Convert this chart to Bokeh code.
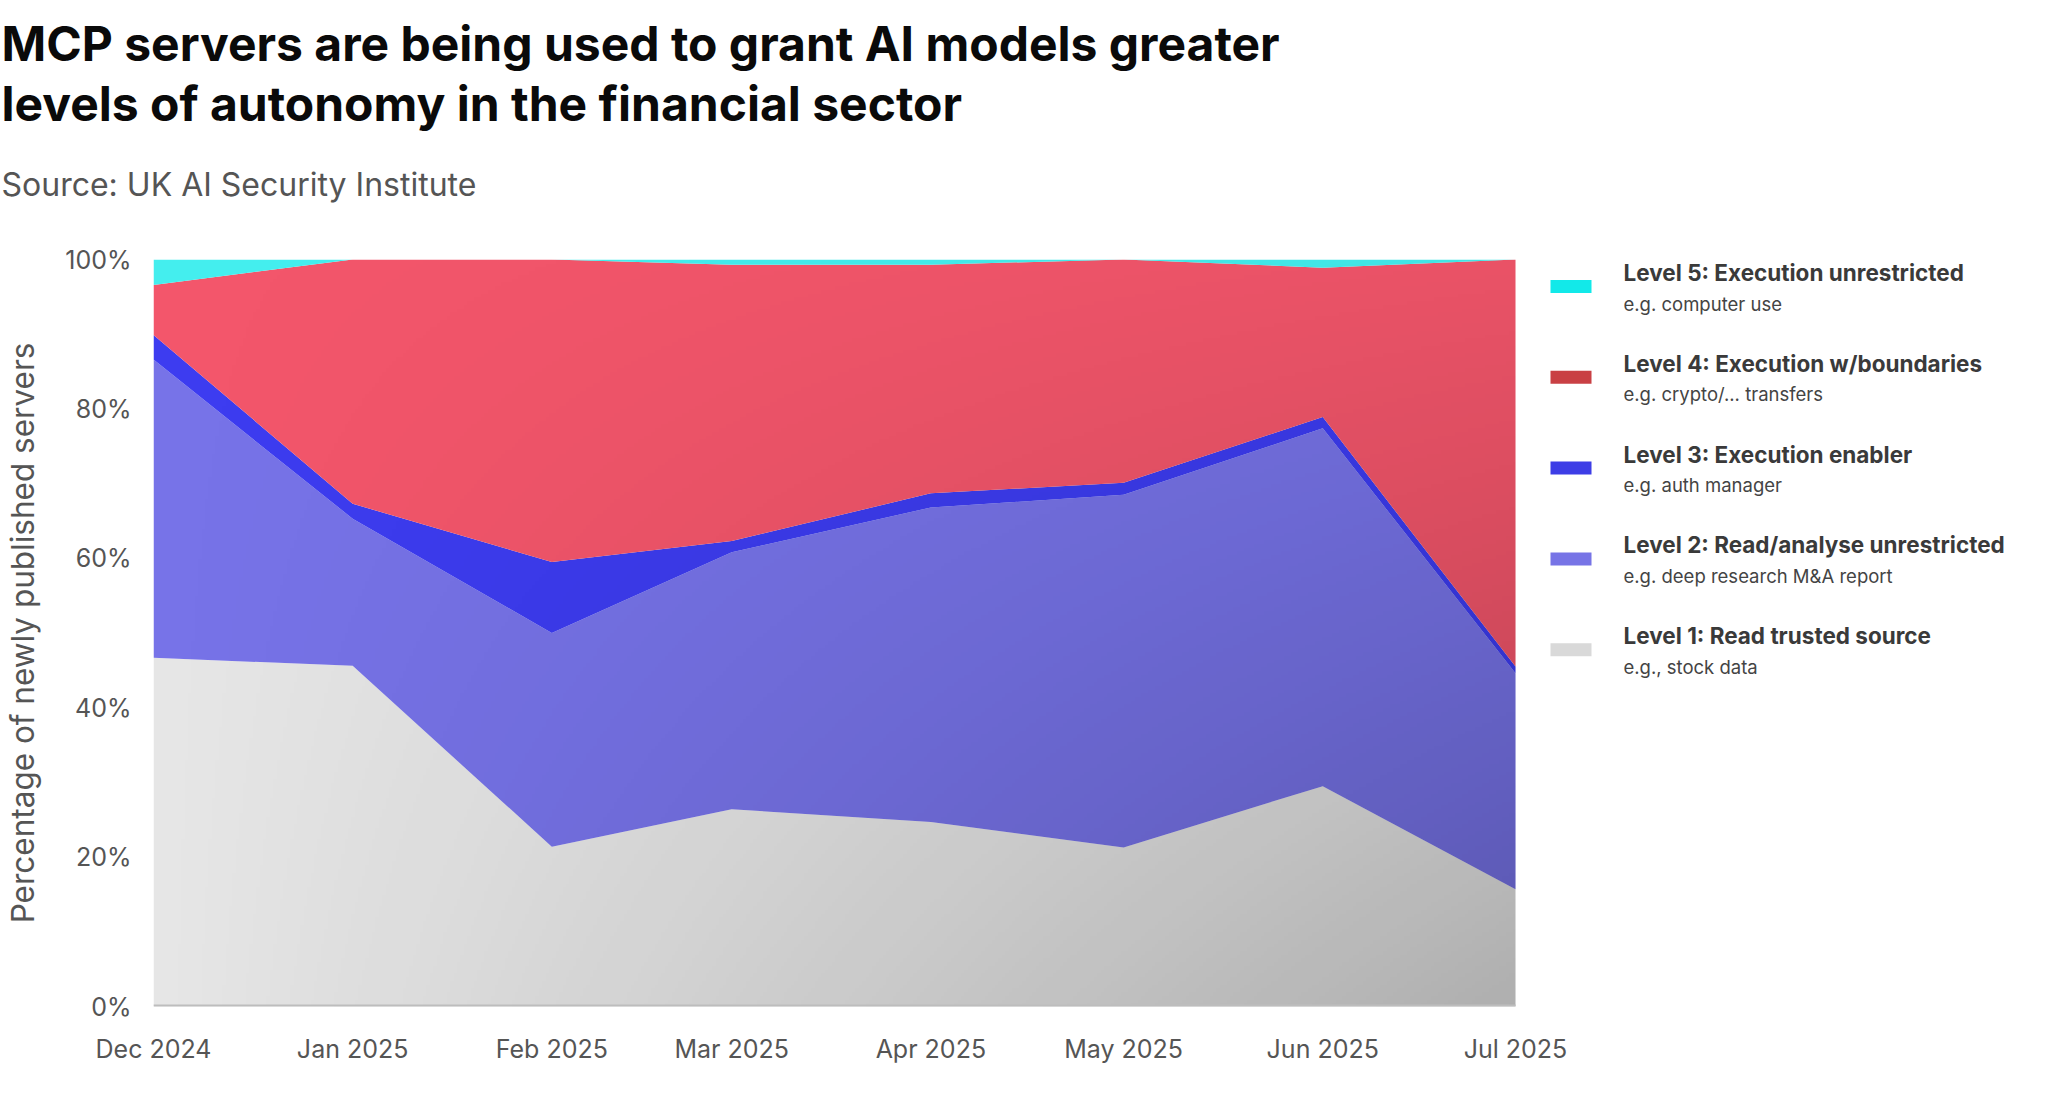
import numpy as np
import pandas as pd
from bokeh.plotting import figure
from bokeh.models import (ColumnDataSource, Label, BoxAnnotation, FixedTicker, Title,
                          DatetimeTickFormatter, PrintfTickFormatter, Range1d)
from bokeh.embed import file_html
from bokeh.resources import INLINE

# ---------------- data ----------------
months = ["2024-12-01", "2025-01-01", "2025-02-01", "2025-03-01",
          "2025-04-01", "2025-05-01", "2025-06-01", "2025-07-01"]
tick_labels = ["Dec 2024", "Jan 2025", "Feb 2025", "Mar 2025",
               "Apr 2025", "May 2025", "Jun 2025", "Jul 2025"]
level1 = [46.7, 45.6, 21.4, 26.4, 24.7, 21.3, 29.5, 15.7]   # Read trusted source
level2 = [39.9, 19.7, 28.6, 34.4, 42.1, 47.2, 47.9, 28.9]   # Read/analyse unrestricted
level3 = [3.3, 2.0, 9.5, 1.5, 1.9, 1.6, 1.5, 0.9]           # Execution enabler
level4 = [6.7, 32.7, 40.5, 37.0, 30.6, 29.9, 20.0, 54.5]    # Execution w/boundaries
level5 = [3.4, 0.0, 0.0, 0.7, 0.7, 0.0, 1.1, 0.0]           # Execution unrestricted
y_ticks = [0, 20, 40, 60, 80, 100]

title_text = ("MCP servers are being used to grant AI models greater\n"
              "levels of autonomy in the financial sector")
source_text = "Source: UK AI Security Institute"
legend_titles = ["Level 5: Execution unrestricted", "Level 4: Execution w/boundaries",
                 "Level 3: Execution enabler", "Level 2: Read/analyse unrestricted",
                 "Level 1: Read trusted source"]
legend_subs = ["e.g. computer use", "e.g. crypto/... transfers", "e.g. auth manager",
               "e.g. deep research M&A report", "e.g., stock data"]

area_colors = ["#e6e6e6", "#7773e8", "#3d3cf0", "#f3566b", "#44eeee"]
swatch_colors = ["#12e9e9", "#c94044", "#3d3de6", "#7774e6", "#d9d9d9"]

# ---------------- layout constants ----------------
W, H = 2032, 1082
LEFT, TOP = 153, 259          # frame position on the canvas
DATA_W, FRAME_H = 1362, 747   # width used by the data span, frame height
FRAME_W = W - LEFT

dates = pd.to_datetime(months)
x_ms = [d.value // 10**6 for d in dates]
x_end = x_ms[0] + (x_ms[-1] - x_ms[0]) * FRAME_W / DATA_W

source = ColumnDataSource(dict(x=dates, l1=level1, l2=level2, l3=level3,
                               l4=level4, l5=level5))

p = figure(width=W, height=H, x_axis_type="datetime",
           output_backend="svg", toolbar_location=None,
           x_range=Range1d(x_ms[0], x_end), y_range=Range1d(0, 100),
           min_border_left=LEFT, min_border_right=0,
           min_border_top=TOP, min_border_bottom=H - TOP - FRAME_H)
p.title = None
p.outline_line_color = None
p.grid.visible = False
p.background_fill_color = "white"
p.border_fill_color = "white"

p.varea_stack(stackers=["l1", "l2", "l3", "l4", "l5"], x="x",
              color=area_colors, source=source)

# subtle left-to-right shading, as in the original
nx, ny = 400, 200
xf = np.linspace(0, 1, nx)[None, :]
yf = np.linspace(0, 1, ny)[:, None]
alpha = xf * (0.24 - 0.2 * yf)
img = np.zeros((ny, nx), dtype=np.uint32)
view = img.view(dtype=np.uint8).reshape((ny, nx, 4))
view[..., 3] = (np.clip(alpha, 0, 1) * 255).astype(np.uint8)
p.image_rgba(image=[img], x=x_ms[0], y=0, dw=x_ms[-1] - x_ms[0], dh=100)

# baseline under the areas
p.segment(x0=x_ms[0], y0=0, x1=x_ms[-1], y1=0, line_color="#bdbdbd", line_width=4)

AX_FONT = "Inter"
GREY = "#555555"

# x axis
p.xaxis.ticker = FixedTicker(ticks=x_ms)
fmt = "%b %Y"
p.xaxis.formatter = DatetimeTickFormatter(milliseconds=fmt, seconds=fmt, minsec=fmt,
                                          minutes=fmt, hourmin=fmt, hours=fmt, days=fmt,
                                          months=fmt, years=fmt)
p.xaxis.major_label_text_font = AX_FONT
p.xaxis.major_label_text_font_size = "25px"
p.xaxis.major_label_text_color = GREY
p.xaxis.major_label_standoff = 27
p.xaxis.major_tick_out = 0
p.xaxis.major_tick_in = 0
p.xaxis.minor_tick_out = 0
p.xaxis.minor_tick_in = 0
p.xaxis.major_tick_line_color = None
p.xaxis.minor_tick_line_color = None
p.xaxis.axis_line_color = None

# y axis
p.yaxis.ticker = FixedTicker(ticks=y_ticks)
p.yaxis.formatter = PrintfTickFormatter(format="%d%%")
p.yaxis.major_label_text_font = AX_FONT
p.yaxis.major_label_text_font_size = "25px"
p.yaxis.major_label_text_color = GREY
p.yaxis.major_label_standoff = 22
p.yaxis.major_tick_out = 0
p.yaxis.major_tick_in = 0
p.yaxis.minor_tick_out = 0
p.yaxis.minor_tick_in = 0
p.yaxis.major_tick_line_color = None
p.yaxis.minor_tick_line_color = None
p.yaxis.axis_line_color = None
p.yaxis.axis_label = "Percentage of newly published servers"
p.yaxis.axis_label_text_font = AX_FONT
p.yaxis.axis_label_text_font_size = "31.5px"
p.yaxis.axis_label_text_font_style = "normal"
p.yaxis.axis_label_text_color = GREY
p.yaxis.axis_label_standoff = 20

# source and two-line title (above panel; first added sits closest to the frame)
p.add_layout(Title(text=source_text, align="left",
                   offset=-152, standoff=111, text_font=AX_FONT,
                   text_font_size="32px", text_font_style="normal",
                   text_color=GREY), "above")
p.add_layout(Title(text=title_text, align="left",
                   offset=-152, standoff=-51, text_font=AX_FONT,
                   text_font_size="48px", text_font_style="bold",
                   text_line_height=1.02, text_color="#0a0a0a"), "above")

# legend (inside the frame, to the right of the data span)
for i in range(5):
    cy = 720 - i * 90.8
    p.add_layout(BoxAnnotation(left=1397, right=1438, bottom=cy - 6.5, top=cy + 6.5,
                               left_units="screen", right_units="screen",
                               top_units="screen", bottom_units="screen",
                               fill_color=swatch_colors[i], fill_alpha=1.0,
                               line_color=None))
    p.add_layout(Label(x=1470, y=734 - i * 90.8, x_units="screen", y_units="screen",
                       text=legend_titles[i], text_font=AX_FONT, text_font_size="22.5px",
                       text_font_style="bold", text_color="#3a3a3a",
                       text_baseline="middle", text_align="left"))
    p.add_layout(Label(x=1470, y=703 - i * 90.8, x_units="screen", y_units="screen",
                       text=legend_subs[i], text_font=AX_FONT, text_font_size="18.5px",
                       text_color="#444444",
                       text_baseline="middle", text_align="left"))

open("out.html", "w").write(file_html(p, INLINE))
